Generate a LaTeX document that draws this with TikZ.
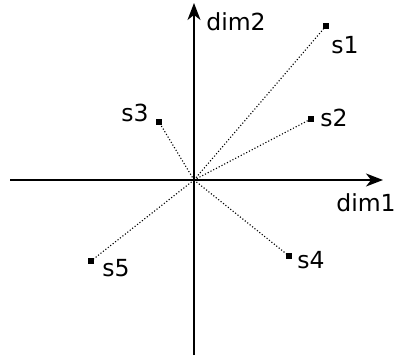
\documentclass[tikz,border=0pt]{standalone}
\usepackage{fontspec}
\setmainfont{DejaVu Sans}
\usetikzlibrary{arrows.meta}
\begin{document}
\begin{tikzpicture}[x=1pt,y=-1pt,
  axis/.style={line width=1.4pt,-{Stealth[length=17pt,width=13pt,inset=5pt]}},
  ray/.style={dotted,line width=1.1pt},
  pt/.style={fill=black,minimum size=6pt,inner sep=0pt},
  lbl/.style={font=\fontsize{23.5}{23.5}\selectfont,inner sep=0pt}]
\useasboundingbox (0,0) rectangle (396,361);
\coordinate (o) at (194,180);
\coordinate (xl) at (10,180);
\coordinate (xr) at (383,180);
\coordinate (yb) at (194,355);
\coordinate (yt) at (194,3);
\draw[axis] (xl) -- (xr);
\draw[axis] (yb) -- (yt);
\node[pt] (s1) at (326,26) {};
\node[pt] (s2) at (311,119) {};
\node[pt] (s3) at (159,122) {};
\node[pt] (s4) at (289,256) {};
\node[pt] (s5) at (91,261) {};
\foreach \s in {s1,s2,s3,s4,s5} \draw[ray] (o) -- (\s.center);
\node[lbl] (ld2) at (236,22) {dim2};
\node[lbl] (ld1) at (366,203) {dim1};
\node[lbl] (l1) at (345,45) {s1};
\node[lbl] (l2) at (334,118) {s2};
\node[lbl] (l3) at (135,113) {s3};
\node[lbl] (l4) at (311,260) {s4};
\node[lbl] (l5) at (116,268) {s5};
\end{tikzpicture}
\end{document}
